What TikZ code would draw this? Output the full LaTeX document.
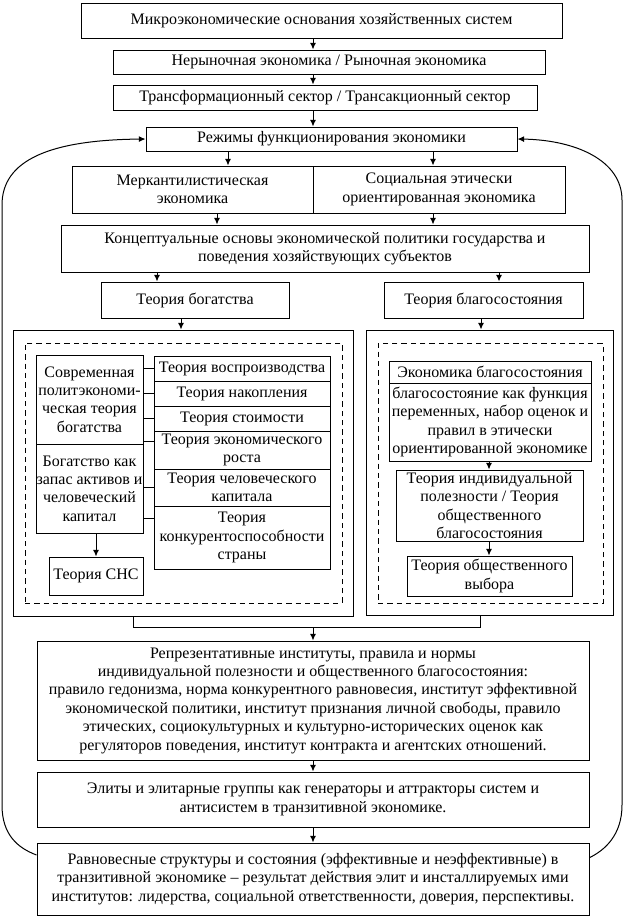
\documentclass[tikz,border=0pt]{standalone}
\usepackage{fontspec}
\setmainfont{Liberation Serif}
\usetikzlibrary{arrows.meta,positioning}

\begin{document}
\begin{tikzpicture}[x=0.75pt,y=-0.75pt,
    box/.style={draw,line width=0.75pt,inner sep=0pt,align=center,
                font=\fontsize{12}{13.8}\selectfont},
    sz/.style 2 args={minimum width=#1*0.75pt,minimum height=#2*0.75pt},
    frame/.style={draw,line width=0.75pt,inner sep=0pt},
    dframe/.style={draw,line width=0.75pt,inner sep=0pt,dash pattern=on 4pt off 3pt},
    arr/.style={-{Latex[length=5pt,width=4.5pt]},line width=0.75pt},
    ln/.style={line width=0.75pt}]
  \useasboundingbox (0,0) rectangle (626,918);

  % top chain
  \node[box, sz={481}{35}] (micro) at (321.5,20.5) {Микроэкономические основания хозяйственных систем};
  \node[box, sz={432}{24}] (market) at (329,62) {Нерыночная экономика / Рыночная экономика};
  \node[box, sz={424}{25}] (sector) at (325,97.5) {Трансформационный сектор / Трансакционный сектор};
  \node[box, sz={371}{24}] (regime) at (331.5,139) {Режимы функционирования экономики};
  \node[box, sz={241}{47}] (merc) at (192.5,189.5) {Меркантилистическая\\экономика};
  \node[box, sz={252}{47}] (soc) at (439,189.5) {Социальная этически\\ориентированная экономика};
  \node[box, sz={528}{47}] (concept) at (325,248.5) {Концептуальные основы экономической политики государства и\\поведения хозяйствующих субъектов};
  \node[box, sz={188}{36}] (wealth) at (195,300) {Теория богатства};
  \node[box, sz={199}{36}] (welfare) at (483.5,300) {Теория благосостояния};

  % left block
  \node[frame, sz={340}{286}] (lout) at (183,473) {};
  \node[dframe, sz={317}{260}] (ldash) at (183.5,473) {};
  \node[box, sz={107}{89}] (modern) at (89.5,399.5) {Современная\\политэкономи-\\ческая теория\\богатства};
  \node[box, sz={107}{89}] (assets) at (89.5,488.5) {Богатство как\\запас активов и\\человеческий\\капитал};
  \node[box, sz={176}{25}] (r1) at (242,368.5) {Теория воспроизводства};
  \node[box, sz={176}{25}] (r2) at (242,393.5) {Теория накопления};
  \node[box, sz={176}{25}] (r3) at (242,418.5) {Теория стоимости};
  \node[box, sz={176}{38}] (r4) at (242,450) {Теория экономического\\роста};
  \node[box, sz={176}{37}] (r5) at (242,487.5) {Теория человеческого\\капитала};
  \node[box, sz={176}{63}] (r6) at (242,537.5) {Теория\\конкурентоспособности\\страны};
  \node[box, sz={94}{38}] (sns) at (96,576) {Теория СНС};

  % right block
  \node[frame, sz={247}{285}] (rout) at (489.5,472.5) {};
  \node[dframe, sz={225}{260}] (rdash) at (490.5,473) {};
  \node[box, sz={202}{22}] (welec) at (490,372) {Экономика благосостояния};
  \node[box, sz={202}{78}] (weldef) at (490,422) {благосостояние как функция\\переменных, набор оценок и\\правил в этически\\ориентированной экономике};
  \node[box, sz={187}{71}] (utility) at (489.5,505.5) {Теория индивидуальной\\полезности / Теория\\общественного\\благосостояния};
  \node[box, sz={165}{40}] (choice) at (489.5,576) {Теория общественного\\выбора};

  % bottom chain
  \node[box, sz={552}{119}] (repr) at (313,700.5) {Репрезентативные институты, правила и нормы\\индивидуальной полезности и общественного благосостояния:\\правило гедонизма, норма конкурентного равновесия, институт эффективной\\экономической политики, институт признания личной свободы, правило\\этических, социокультурных и культурно-исторических оценок как\\регуляторов поведения, институт контракта и агентских отношений.};
  \node[box, sz={552}{55}] (elite) at (313,799.5) {Элиты и элитарные группы как генераторы и аттракторы систем и\\антисистем в транзитивной экономике.};
  \node[box, sz={552}{72}] (equil) at (313,879) {Равновесные структуры и состояния (эффективные и неэффективные) в\\транзитивной экономике -- результат действия элит и инсталлируемых ими\\институтов: лидерства, социальной ответственности, доверия, перспективы.};

  % arrow columns
  \coordinate (cm) at (313,0);
  \coordinate (cl) at (228,0);
  \coordinate (cl2) at (217,0);
  \coordinate (cr) at (433,0);
  \coordinate (ca) at (157,0);
  \coordinate (cb) at (181,0);
  \coordinate (cc) at (499,0);
  \coordinate (cd) at (481,0);
  \coordinate (cu) at (489,0);
  \coordinate (join) at (313,627);

  \draw[arr] (micro.south -| cm) -- (market.north -| cm);
  \draw[arr] (market.south -| cm) -- (sector.north -| cm);
  \draw[arr] (sector.south -| cm) -- (regime.north -| cm);
  \draw[arr] (regime.south -| cl) -- (merc.north -| cl);
  \draw[arr] (regime.south -| cr) -- (soc.north -| cr);
  \draw[arr] (merc.south -| cl2) -- (concept.north -| cl2);
  \draw[arr] (soc.south -| cr) -- (concept.north -| cr);
  \draw[arr] (concept.south -| ca) -- (wealth.north -| ca);
  \draw[arr] (concept.south -| cc) -- (welfare.north -| cc);
  \draw[arr] (wealth.south -| cb) -- (lout.north -| cb);
  \draw[arr] (welfare.south -| cd) -- (rout.north -| cd);

  % stubs to the theory column
  \foreach \r in {r1,r2,r3,r5}
    \draw[ln] (\r.west) -- ++(-11,0);
  \draw[ln] ([yshift=-8pt]r4.north west) -- ++(-11,0);
  \draw[ln] ([yshift=-10pt]r6.north west) -- ++(-11,0);
  \draw[arr] (assets.south -| sns.north) -- (sns.north);

  \draw[arr] (weldef.south -| cu) -- (utility.north -| cu);
  \draw[arr] (utility.south -| cu) -- (choice.north -| cu);

  % join of both blocks
  \draw[ln] (lout.south -| 133,0) -- (133,627) -| (rout.south -| 480,0);
  \draw[arr] (join) -- (repr.north -| join);
  \draw[arr] (repr.south -| cm) -- (elite.north -| cm);
  \draw[arr] (elite.south -| cm) -- (equil.north -| cm);

  % feedback loops
  \draw[arr] ([yshift=18pt]equil.west) .. controls (18,848) and (2,835) .. (2,805)
    -- (2,205) .. controls (2,160) and (50,140) .. (regime.west);
  \draw[arr] ([yshift=16pt]equil.east) .. controls (605,850) and (622,835) .. (622,805)
    -- (622,200) .. controls (622,160) and (575,140) .. (regime.east);
\end{tikzpicture}
\end{document}
